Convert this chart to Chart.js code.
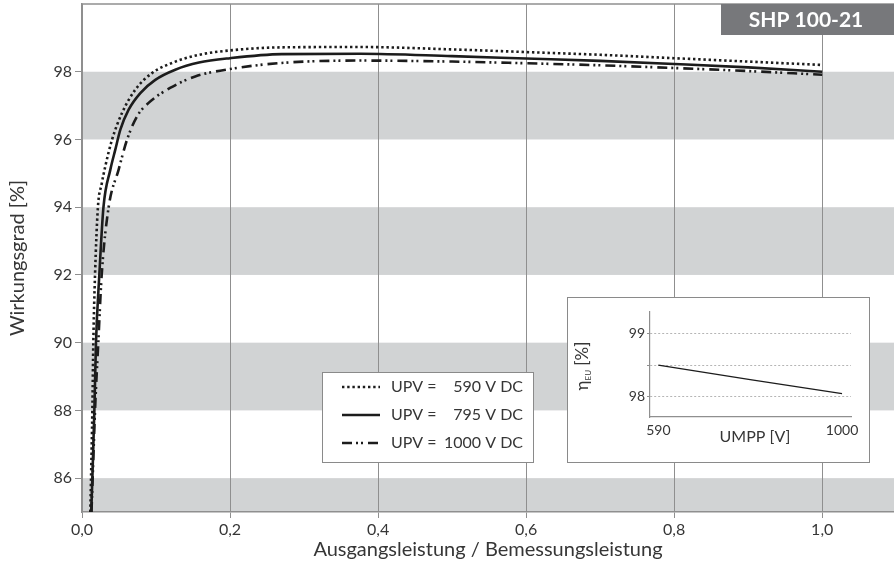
<!DOCTYPE html>
<html>
<head>
<meta charset="utf-8">
<script src="https://cdn.jsdelivr.net/npm/chart.js"></script>
<style>
html, body { margin: 0; padding: 0; background: #fff; overflow: hidden; }
#wrap { position: relative; width: 894px; height: 574px; }
#insetBox { position: absolute; left: 567px; top: 297px; width: 303px; height: 166px; box-sizing: border-box; border: 1px solid #8a8a8a; background: #fff; }
</style>
</head>
<body>
<div id="wrap">
	<canvas id="mainChart" width="894" height="574"></canvas>
	<div id="insetBox"><canvas id="insetChart" width="301" height="164"></canvas></div>
</div>
<script>
// main chart data
var xTicks = [0, 0.2, 0.4, 0.6, 0.8, 1.0];
var yTicks = [86, 88, 90, 92, 94, 96, 98];
var grayBands = [[84, 86], [88, 90], [92, 94], [96, 98]];
var voltages = ['590', '795', '1000'];

var x590 = [0.0112, 0.0122, 0.0140, 0.0153, 0.0176, 0.0215, 0.0265, 0.0315, 0.0405, 0.054, 0.072, 0.0946, 0.1216, 0.158, 0.2, 0.27, 0.376, 0.5, 0.6, 0.7, 0.8, 0.9, 1.0];
var y590 = [85, 86, 88, 90, 92, 94, 94.68, 95.21, 95.99, 96.78, 97.47, 97.96, 98.26, 98.5, 98.63, 98.72, 98.73, 98.66, 98.58, 98.5, 98.4, 98.3, 98.2];

var x795 = [0.0125, 0.014, 0.0167, 0.0189, 0.0234, 0.029, 0.0383, 0.045, 0.0518, 0.063, 0.0788, 0.099, 0.126, 0.158, 0.2, 0.27, 0.376, 0.5, 0.6, 0.7, 0.8, 0.9, 1.0];
var y795 = [85, 86, 88, 90, 92, 94, 95.11, 95.7, 96.29, 96.88, 97.37, 97.76, 98.06, 98.27, 98.4, 98.52, 98.53, 98.46, 98.39, 98.32, 98.23, 98.13, 98.0];

var x1000 = [0.0128, 0.0144, 0.0176, 0.022, 0.0266, 0.036, 0.0495, 0.0608, 0.0743, 0.09, 0.119, 0.153, 0.2, 0.27, 0.376, 0.5, 0.6, 0.7, 0.8, 0.9, 1.0];
var y1000 = [85, 86, 88, 90, 92, 94, 95.11, 95.99, 96.68, 97.08, 97.52, 97.86, 98.08, 98.26, 98.33, 98.3, 98.25, 98.19, 98.11, 98.02, 97.91];

// inset data
var inVolt = [590, 795, 1000];
var inEff = [98.5, 98.27, 98.05];
var inXTicks = [590, 1000];
var inYTicks = [98, 98.5, 99];

var FONT = "Lato, 'DejaVu Sans', sans-serif";
var TXT = '#363636';
var AXIS = '#8f8f8f';
var LINE = '#1c1c1c';

var dashes = [[2.4, 2.8], [], [10, 4, 2, 3, 2, 5]];

function pts(xs, ys){
	return xs.map(function(x, i){ return {x: x, y: ys[i]}; });
}

function setTicks(list){
	return function(scale){
		scale.ticks = list.map(function(v){ return {value: v}; });
	};
}

var bandsPlugin = {
	id: 'bands',
	beforeDraw: function(chart){
		var ctx = chart.ctx, a = chart.chartArea, ys = chart.scales.y;
		ctx.save();
		ctx.fillStyle = '#d1d3d4';
		grayBands.forEach(function(b){
			var top = Math.max(ys.getPixelForValue(b[1]), a.top);
			var bot = Math.min(ys.getPixelForValue(b[0]), a.bottom);
			if (bot > top) ctx.fillRect(a.left, top, a.right - a.left, bot - top);
		});
		ctx.restore();
	}
};

var extrasPlugin = {
	id: 'extras',
	afterDraw: function(chart){
		var ctx = chart.ctx, a = chart.chartArea;
		ctx.save();
		// top frame line
		ctx.strokeStyle = AXIS;
		ctx.lineWidth = 1.5;
		ctx.beginPath();
		ctx.moveTo(a.left, a.top);
		ctx.lineTo(a.right, a.top);
		ctx.stroke();

		// model label
		ctx.fillStyle = '#77787b';
		ctx.fillRect(721, a.top, a.right - 721, 31);
		ctx.fillStyle = '#fff';
		ctx.font = 'bold 21px ' + FONT;
		ctx.textAlign = 'center';
		ctx.textBaseline = 'middle';
		ctx.fillText('SHP 100-21', 806, a.top + 16);

		// legend
		ctx.fillStyle = '#fff';
		ctx.fillRect(322, 372, 211, 90);
		ctx.strokeStyle = '#8a8a8a';
		ctx.lineWidth = 1;
		ctx.strokeRect(322.5, 372.5, 211, 90);
		ctx.font = '16px ' + FONT;
		ctx.fillStyle = TXT;
		chart.data.datasets.forEach(function(ds, i){
			var y = 387 + i * 28;
			ctx.strokeStyle = LINE;
			ctx.lineWidth = ds.borderWidth;
			ctx.setLineDash(ds.borderDash);
			ctx.beginPath();
			ctx.moveTo(342, y);
			ctx.lineTo(380, y);
			ctx.stroke();
			ctx.setLineDash([]);
			ctx.textAlign = 'left';
			ctx.fillText('UPV =', 391, y);
			ctx.textAlign = 'right';
			ctx.fillText(voltages[i] + ' V DC', 523, y);
		});
		ctx.restore();
	}
};

var mainChart = new Chart(document.getElementById('mainChart'), {
	type: 'line',
	data: {
		datasets: voltages.map(function(v, i){
			var xs = [x590, x795, x1000][i];
			var ys = [y590, y795, y1000][i];
			return {
				label: 'UPV = ' + v + ' V DC',
				data: pts(xs, ys),
				borderColor: LINE,
				borderWidth: 2.6,
				borderDash: dashes[i],
				pointRadius: 0,
				cubicInterpolationMode: 'monotone',
				fill: false
			};
		})
	},
	options: {
		responsive: false,
		animation: false,
		layout: { padding: { top: 4, right: 0, left: 0, bottom: 0 } },
		plugins: { legend: { display: false }, tooltip: { enabled: false } },
		scales: {
			x: {
				type: 'linear', min: 0, max: 1.097,
				afterBuildTicks: setTicks(xTicks),
				afterFit: function(s){ s.height = 62; s.paddingLeft = 0; s.paddingRight = 0; },
				grid: { color: AXIS, lineWidth: 1, drawTicks: true, tickLength: 6, tickColor: AXIS },
				border: { color: AXIS, width: 1.5 },
				ticks: {
					font: { family: FONT, size: 16 }, color: TXT, padding: 2, maxRotation: 0,
					callback: function(v){ return v.toFixed(1).replace('.', ','); }
				},
				title: { display: true, text: 'Ausgangsleistung / Bemessungsleistung', font: { family: FONT, size: 20 }, color: TXT, padding: { top: 0, bottom: 12 } }
			},
			y: {
				type: 'linear', min: 85, max: 100,
				afterBuildTicks: setTicks(yTicks),
				afterFit: function(s){ s.width = 82; s.paddingTop = 0; s.paddingBottom = 0; },
				grid: { drawOnChartArea: false, drawTicks: true, tickLength: 7, tickColor: AXIS },
				border: { color: AXIS, width: 1.5 },
				ticks: { font: { family: FONT, size: 16 }, color: TXT, padding: 3 },
				title: { display: true, text: 'Wirkungsgrad [%]', font: { family: FONT, size: 20 }, color: TXT, padding: { top: 6, bottom: 0 } }
			}
		}
	},
	plugins: [bandsPlugin, extrasPlugin]
});

var insetLabels = {
	id: 'insetLabels',
	afterDraw: function(chart){
		var ctx = chart.ctx;
		ctx.save();
		ctx.fillStyle = TXT;
		ctx.textBaseline = 'middle';
		ctx.font = '16px ' + FONT;
		ctx.textAlign = 'center';
		ctx.fillText('UMPP [V]', 187, 139);

		// rotated eta_EU [%]
		ctx.translate(15, 68);
		ctx.rotate(-Math.PI / 2);
		ctx.textAlign = 'left';
		ctx.font = '17px ' + FONT;
		var w1 = ctx.measureText('η').width;
		var w3 = ctx.measureText(' [%]').width;
		ctx.font = '8px ' + FONT;
		var w2 = ctx.measureText('EU').width;
		var sx = -(w1 + w2 + w3) / 2;
		ctx.font = '17px ' + FONT;
		ctx.fillText('η', sx, 0);
		ctx.font = '8px ' + FONT;
		ctx.fillText('EU', sx + w1, 5);
		ctx.font = '17px ' + FONT;
		ctx.fillText(' [%]', sx + w1 + w2, 0);
		ctx.restore();
	}
};

var insetChart = new Chart(document.getElementById('insetChart'), {
	type: 'line',
	data: {
		datasets: [{
			label: 'ηEU',
			data: pts(inVolt, inEff),
			borderColor: LINE,
			borderWidth: 1.4,
			pointRadius: 0,
			fill: false
		}]
	},
	options: {
		responsive: false,
		animation: false,
		layout: { padding: { top: 14, right: 18, left: 0, bottom: 0 } },
		plugins: { legend: { display: false }, tooltip: { enabled: false } },
		scales: {
			x: {
				type: 'linear', min: 571.4, max: 1020,
				afterBuildTicks: setTicks(inXTicks),
				afterFit: function(s){ s.height = 45; s.paddingLeft = 0; s.paddingRight = 0; },
				grid: { drawOnChartArea: false, drawTicks: false },
				border: { color: AXIS, width: 1.2 },
				ticks: {
					font: { family: FONT, size: 14 }, color: TXT, padding: 5, maxRotation: 0,
					callback: function(v){ return String(v); }
				}
			},
			y: {
				type: 'linear', min: 97.68, max: 99.34,
				afterBuildTicks: setTicks(inYTicks),
				afterFit: function(s){ s.width = 82; s.paddingTop = 0; s.paddingBottom = 0; },
				grid: { color: '#b5b5b5', lineWidth: 1, drawTicks: true, tickLength: 3, tickColor: AXIS },
				border: { color: AXIS, width: 1.2, dash: [2, 2] },
				ticks: {
					font: { family: FONT, size: 14 }, color: TXT, padding: 2,
					callback: function(v){ return v === 98.5 ? '' : String(v); }
				}
			}
		}
	},
	plugins: [insetLabels]
});
</script>
</body>
</html>
